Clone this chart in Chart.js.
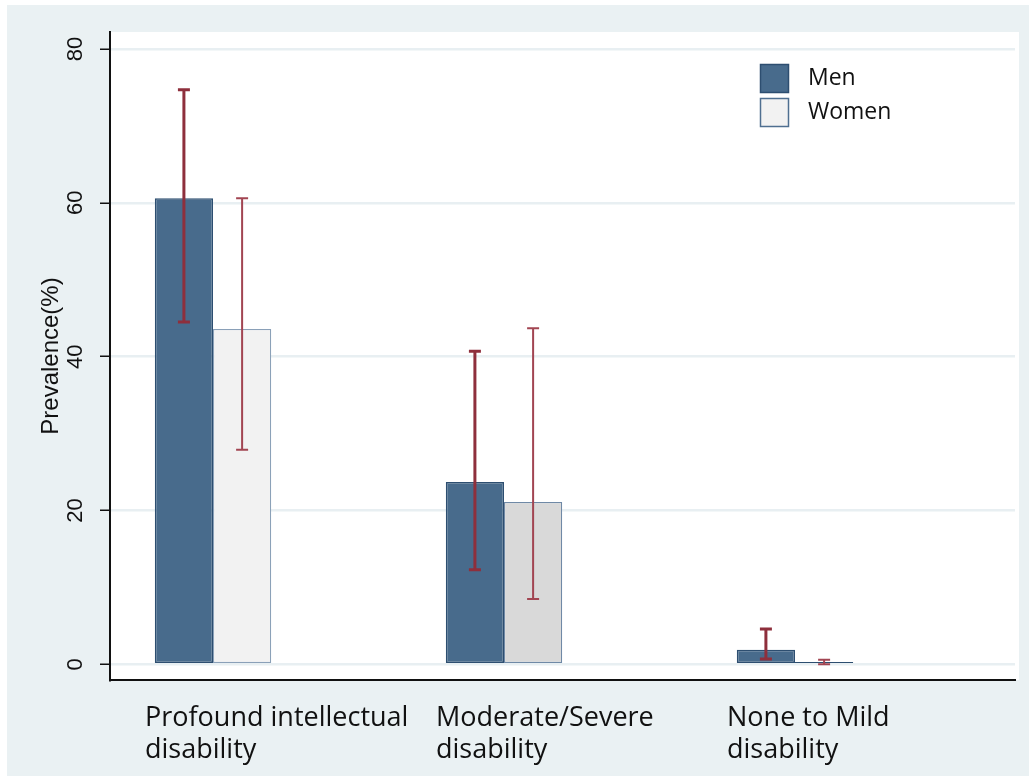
<!DOCTYPE html>
<html>
<head>
<meta charset="utf-8">
<script src="https://cdn.jsdelivr.net/npm/chart.js@4"></script>
<style>
  html, body { margin: 0; padding: 0; background: #fff; }
  #wrap { position: absolute; left: 7px; top: 5px; width: 1022px; height: 771px; background: #eaf1f3; }
</style>
</head>
<body>
<div id="wrap"><canvas id="myChart" width="1022" height="771"></canvas></div>
<script>
// categories (x axis labels, two lines each)
const categories = [
  ["Profound intellectual", "disability"],
  ["Moderate/Severe", "disability"],
  ["None to Mild", "disability"]
];

// prevalence (%) and 95% CI
const menValues = [60.6, 23.7, 1.9];
const menLow = [44.5, 12.3, 0.7];
const menHigh = [74.7, 40.7, 4.6];

const womenValues = [43.6, 21.1, 0.3];
const womenLow = [27.9, 8.5, 0.0];
const womenHigh = [60.6, 43.7, 0.6];

const yTicks = [0, 20, 40, 60, 80];

// white plotting region
const plotBackground = {
  id: "plotBackground",
  beforeDraw(chart) {
    const { ctx, chartArea } = chart;
    ctx.save();
    ctx.fillStyle = "#ffffff";
    ctx.fillRect(chartArea.left, chartArea.top, chartArea.right - chartArea.left + 4, chartArea.bottom - chartArea.top);
    ctx.restore();
  }
};

// confidence interval whiskers
const errorBars = {
  id: "errorBars",
  afterDatasetsDraw(chart) {
    const { ctx } = chart;
    const y = chart.scales.y;
    chart.data.datasets.forEach((ds, i) => {
      const meta = chart.getDatasetMeta(i);
      ctx.save();
      ctx.strokeStyle = ds.errorColor;
      ctx.lineWidth = ds.errorWidth;
      meta.data.forEach((bar, j) => {
        const top = y.getPixelForValue(ds.high[j]);
        const bottom = y.getPixelForValue(ds.low[j]);
        ctx.beginPath();
        ctx.moveTo(bar.x, top);
        ctx.lineTo(bar.x, bottom);
        ctx.moveTo(bar.x - 6, top);
        ctx.lineTo(bar.x + 6, top);
        ctx.moveTo(bar.x - 6, bottom);
        ctx.lineTo(bar.x + 6, bottom);
        ctx.stroke();
      });
      ctx.restore();
    });
  }
};

// rotated y tick labels (Stata style)
const yTickLabels = {
  id: "yTickLabels",
  afterDraw(chart) {
    const { ctx } = chart;
    const y = chart.scales.y;
    y.ticks.forEach((t) => {
      ctx.save();
      ctx.translate(y.right - 34, y.getPixelForValue(t.value));
      ctx.rotate(-Math.PI / 2);
      ctx.font = '22px "Liberation Sans", Arial, sans-serif';
      ctx.fillStyle = "#111";
      ctx.textAlign = "center";
      ctx.textBaseline = "middle";
      ctx.fillText(String(t.value), 0, 0);
      ctx.restore();
    });
  }
};

// legend inside the plot, top right
const insideLegend = {
  id: "insideLegend",
  afterDraw(chart) {
    const { ctx, chartArea } = chart;
    const x0 = chartArea.right - 255;
    let y0 = chartArea.top + 32;
    chart.data.datasets.forEach((ds) => {
      ctx.save();
      ctx.fillStyle = ds.legendFill;
      ctx.fillRect(x0, y0, 29, 29);
      ctx.strokeStyle = ds.legendBorder;
      ctx.lineWidth = 1.5;
      ctx.strokeRect(x0 + 0.5, y0 + 0.5, 28, 28);
      ctx.fillStyle = "#111";
      ctx.font = '23px "Open Sans", sans-serif';
      ctx.textBaseline = "middle";
      ctx.fillText(ds.label, x0 + 48, y0 + 14);
      ctx.restore();
      y0 += 34;
    });
  }
};

const ctx = document.getElementById("myChart");

new Chart(ctx, {
  type: "bar",
  data: {
    datasets: [
      {
        label: "Men",
        data: menValues.map((v, i) => ({ x: i, y: v })),
        low: menLow,
        high: menHigh,
        backgroundColor: "#486b8c",
        borderColor: "#2d4e70",
        borderWidth: 1.5,
        borderSkipped: false,
        errorColor: "#8e2f3c",
        errorWidth: 3,
        legendFill: "#486b8c",
        legendBorder: "#2d4e70",
        categoryPercentage: 0.4,
        barPercentage: 1.0
      },
      {
        label: "Women",
        data: womenValues.map((v, i) => ({ x: i, y: v })),
        low: womenLow,
        high: womenHigh,
        backgroundColor: ["#f2f2f2", "#d9d9d9", "#f2f2f2"],
        borderColor: ["#8aa0b8", "#6f89a6", "#2d4e70"],
        borderWidth: 1.2,
        borderSkipped: false,
        errorColor: "#a24552",
        errorWidth: 2,
        legendFill: "#f2f2f2",
        legendBorder: "#4f6f90",
        categoryPercentage: 0.4,
        barPercentage: 1.0
      }
    ]
  },
  options: {
    responsive: false,
    animation: false,
    layout: { padding: { top: 27, right: 14, left: 0, bottom: 0 } },
    plugins: {
      legend: { display: false },
      tooltip: { enabled: false }
    },
    scales: {
      x: {
        type: "linear",
        offset: false,
        min: -0.354,
        max: 2.756,
        afterBuildTicks: (scale) => {
          scale.ticks = categories.map((c, i) => ({ value: i }));
        },
        afterFit: (scale) => { scale.height = 96; },
        grid: { display: false, drawTicks: false },
        border: { display: true, color: "#111", width: 2 },
        ticks: {
          align: "start",
          labelOffset: -68,
          padding: 22,
          color: "#111",
          font: { family: '"Open Sans", sans-serif', size: 27, lineHeight: 1.2 },
          callback: (value) => categories[value]
        }
      },
      y: {
        min: -2.04,
        max: 82.21,
        afterBuildTicks: (scale) => {
          scale.ticks = yTicks.map((v) => ({ value: v }));
        },
        afterFit: (scale) => { scale.width = 103; },
        grid: {
          color: "#e8eff2",
          lineWidth: 2.5,
          tickColor: "#111",
          tickLength: 10,
          tickWidth: 1.5
        },
        border: { display: true, color: "#111", width: 2 },
        ticks: { display: false },
        title: {
          display: true,
          text: "Prevalence(%)",
          color: "#111",
          font: { family: '"Liberation Sans", Arial, sans-serif', size: 24 },
          padding: { top: 30, bottom: 0 }
        }
      }
    }
  },
  plugins: [plotBackground, errorBars, yTickLabels, insideLegend]
});
</script>
</body>
</html>
